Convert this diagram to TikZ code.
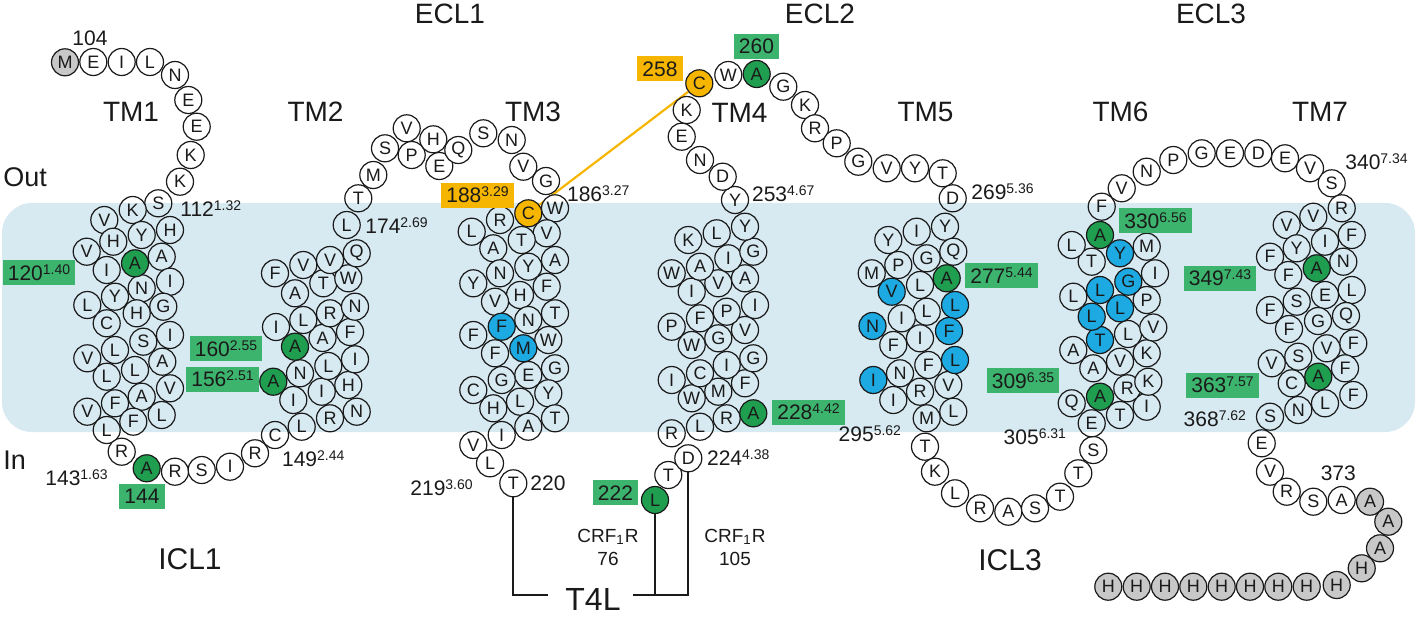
\documentclass[tikz,border=0pt]{standalone}
\usepackage{fontspec}
\setmainfont{Liberation Sans}
\pgfdeclarelayer{back}
\pgfdeclarelayer{mid}
\pgfsetlayers{back,mid,main}
\definecolor{bandc}{HTML}{D7E9F1}
\definecolor{boxgreen}{HTML}{3DB46E}
\definecolor{resgreen}{HTML}{1F9E50}
\definecolor{resblue}{HTML}{1DA9E1}
\definecolor{resorange}{HTML}{F6B600}
\definecolor{resgray}{HTML}{C8C8C8}
\definecolor{ink}{HTML}{1A1A1A}
\newcommand\bwsup[1]{\raisebox{3pt}{\fontsize{7}{8}\selectfont #1}}
\newcommand\wres[2]{\foreach \px/\py/\pl [count=\pk] in {#2} {\node[reswhite] (#1\pk) at (\px,\py) {\pl};}}
\newcommand\cres[2]{\foreach \px/\py/\pl/\pc [count=\pk] in {#2} {\node[res, fill=\pc] (#1\pk) at (\px,\py) {\pl};}}
\tikzset{
  res/.style={circle, draw=ink, line width=0.6pt, minimum size=13.5pt, inner sep=0pt, font=\fontsize{9}{9}\selectfont, text=ink},
  reswhite/.style={res, fill=white, path picture={\fill[bandc] (bandNW) rectangle (bandSE);}},
  lab/.style={inner sep=0pt, anchor=base west, font=\fontsize{10.5}{12}\selectfont, text=ink},
  numbox/.style={inner xsep=2.5pt, inner ysep=0pt, minimum height=12.5pt, text height=7.5pt, text depth=0pt, font=\fontsize{10.5}{12}\selectfont, text=ink},
  gbox/.style={numbox, fill=boxgreen},
  obox/.style={numbox, fill=resorange},
  tmlab/.style={inner sep=0pt, font=\fontsize{14}{16}\selectfont, text=ink},
  loopl/.style={inner sep=0pt, font=\fontsize{15}{17}\selectfont, text=ink},
  crf/.style={inner sep=0pt, anchor=base, font=\fontsize{9.5}{11}\selectfont, text=ink},
  link/.style={draw=ink, line width=1pt},
}
\begin{document}
\begin{tikzpicture}[x=0.5pt,y=-0.5pt]
\useasboundingbox (0,0) rectangle (1417,616);
\coordinate (bandNW) at (2,203);
\coordinate (bandSE) at (1415,432);
\begin{pgfonlayer}{back}
\fill[bandc, rounded corners=15pt] (bandNW) rectangle (bandSE);
\end{pgfonlayer}

% N-terminus, TM1, ICL1
\wres{a}{93.3/62/E, 121.7/62/I, 150/62/L, 175/75/N, 188.3/100/E, 196.7/126.7/E, 190.7/155/K, 180/181.7/K,
158.3/203.3/S, 132.7/210/K, 104.3/220/V, 170/230/H, 141.7/235/Y, 113.3/241.7/H, 86.7/251.7/V, 161.7/256.7/A,
106.7/270/I, 170/281.7/I, 141.7/288.3/N, 115/296.7/Y, 87.3/305/L, 163.3/306.7/G, 136.7/313.3/H,
106.7/323.3/C, 170/335/I, 143.3/341.7/S, 115/350/L, 87.3/358.3/V, 162.3/361.7/A, 135/370/L, 106.7/376.7/L,
170/388.3/V, 141.7/396.7/A, 115/403.3/F, 87.3/411.7/V, 161.7/415/L, 133.3/421.7/F, 106.7/430/L,
121.7/451.7/R, 175/471.7/R, 201.7/470/S, 230/466.7/I, 255/453.3/R}
% TM2, ECL1
\wres{b}{275/435/C, 301.7/426.7/L, 330/418.3/R, 356.7/411.7/N, 293.3/400/I, 321.7/391.7/I, 348.3/385/H,
300/373.3/N, 328.3/366/L, 355/359.3/I, 322.5/338/A, 350/332/F, 276/327/I, 303.3/320/L, 330/313.3/R,
355/306.7/N, 295/293.3/A, 323.3/283.3/T, 348.3/278.3/W, 275/273.3/F, 303.3/265/V, 330/260/V, 356.7/253.3/Q,
346.7/225/L, 358.3/198.3/T, 373.3/175/M, 385/148.3/S, 406.7/128.3/V, 433.3/139.3/H, 411.7/155/P,
439.3/166/E, 458.3/150/Q, 483.3/133.3/S, 511.7/140/N, 523.3/166.7/V, 546/181/G}
% TM3
\wres{c}{555/208.3/W, 500/220/R, 471.7/231.7/L, 546.7/233.3/V, 521.7/240/T, 493.3/248.3/A, 555/260/A,
528.3/266.7/Y, 500/273.3/N, 473.3/283.3/Y, 546.7/286.7/F, 520/295/H, 495/301.7/V, 555/313.3/T, 528.3/320/N,
473.3/335/F, 548.3/340/W, 495/353.3/F, 555/368.3/G, 528.3/375/E, 501.7/380/G, 473.3/390/C, 548.3/393.3/Y,
520/401.7/L, 493.3/408.3/H, 555/418.3/T, 528.3/426.7/A, 501.7/435/I, 473.3/445/V, 490/463.3/L}
% TM4, ECL2
\wres{d}{668.3/475/T, 671.7/433.3/R, 700/426.7/L, 726.7/418.3/R, 691.7/398.3/W, 718.3/391.7/M, 745/383.3/F,
671.7/380/I, 700/373.3/C, 726.7/365/I, 753.3/358.3/G, 691.7/345/W, 718.3/338.3/G, 745/330/V, 671.7/326.7/P,
700/318.3/F, 726.7/311.7/P, 755/305/I, 691.7/291.7/I, 718.3/283.3/V, 745/278.3/A, 671.7/273.3/W, 700/266.7/A,
728.3/258.3/I, 753.3/251.7/G, 688.3/240/K, 716.7/233.3/L, 745/226.7/Y, 735/200/Y, 722.7/176.7/D, 700/160/N,
681.7/136.7/E, 686.7/110/K, 728.3/75/W, 783.3/86.7/G, 805/105/K, 815/128.3/R, 836.7/143.3/P, 858.3/161.7/G,
886.7/168.3/V, 915/168.3/Y, 942.7/173.3/T, 952.7/198.3/D}
% TM5, ICL3
\wres{e}{945/226.7/Y, 916.7/231.7/I, 888.3/240/Y, 953.3/251.7/Q, 926.7/258.3/G, 898.3/265/P, 871.7/273.3/M,
920/285/L, 926.7/311.7/L, 901.7/318.3/I, 920/338.3/I, 893.3/345/F, 928.3/365/F, 900/373.3/N, 948.3/385/V,
920/391.7/R, 893.3/400/I, 953.3/411.7/L, 926.7/418.3/M, 925/446.7/T, 935/471.7/K, 955/493.3/L, 980/508.3/R,
1008.3/511.7/A, 1035/508.3/S, 1060/496.7/T}
% TM6, ECL3
\wres{f}{1078.3/473.3/T, 1093.3/450/S, 1091.7/423.3/E, 1071.7/403.3/Q, 1120/415/T, 1146.7/406.7/I,
1127.3/388.3/R, 1148.3/381.7/K, 1093.3/368.3/A, 1120/361.7/V, 1146.7/353.3/K, 1073.3/350/A, 1128/334/L,
1153.3/327.5/V, 1146.7/300/P, 1073.3/296.7/L, 1155/273.3/I, 1091.7/261.7/T, 1146.7/246.7/M, 1071.7/245/L,
1101.7/206.7/F, 1121.7/188.3/V, 1146.7/171.7/N, 1173.3/160/P, 1201.7/153.3/G, 1230/153.3/E, 1258.3/153.3/D,
1285/158.3/E, 1310/168.3/V, 1331.7/183.3/S}
% TM7, C-terminus
\wres{g}{1341.7/208.3/R, 1313.3/216.7/V, 1286.7/225/V, 1351.7/235/F, 1325/241.7/I, 1296.7/248.3/Y,
1270/256.7/F, 1343.3/261.7/N, 1288.3/275/F, 1351.7/290/L, 1325/295/E, 1296.7/301.7/S, 1270/310/F,
1346/316/Q, 1318/321/G, 1289/329/F, 1353.3/343.3/F, 1326.7/348.3/V, 1298.3/356.7/S, 1271.7/363.3/V,
1345/368.3/F, 1291.7/383.3/C, 1353.3/395/F, 1325/403.3/L, 1298.3/410/N, 1270/416.7/S, 1261.7/443.3/E,
1270/471.7/V, 1286.7/491.7/R, 1313.3/501.7/S, 1341.7/500/A}
% coloured residues
\cres{k}{65/62.3/M/resgray, 1370/501.7/A/resgray, 1388.3/521.7/A/resgray, 1380/548.3/A/resgray,
1361.7/568.3/H/resgray, 1336.7/585/H/resgray, 1306.7/586.7/H/resgray, 1278.3/586.7/H/resgray,
1250/586.7/H/resgray, 1221.7/586.7/H/resgray, 1193.3/586.7/H/resgray, 1165/586.7/H/resgray,
1136.7/586.7/H/resgray, 1108.3/586.7/H/resgray}
\cres{gr}{135/263.3/A/resgreen, 146.7/468.3/A/resgreen, 273.3/381.7/A/resgreen, 295/346.7/A/resgreen,
753.3/413.3/A/resgreen, 756.7/74/A/resgreen, 946.7/278.3/A/resgreen, 1100/396.7/A/resgreen,
1100/235/A/resgreen, 1316.7/268.3/A/resgreen, 1318.3/376.7/A/resgreen}
\cres{bl}{501.7/326.7/F/resblue, 523.3/348.3/M/resblue, 891.7/291.7/V/resblue, 955/305/L/resblue,
872.5/326/N/resblue, 949/331/F/resblue, 955/360/L/resblue, 873.3/380/I/resblue, 1100/340/T/resblue,
1091.7/316.7/L/resblue, 1120/308.3/L/resblue, 1100/290/L/resblue, 1128.3/281.7/G/resblue,
1120/253.3/Y/resblue}
\node[res, fill=resorange] (c188) at (528.3,213.3) {C};
\node[res, fill=resorange] (c258) at (699.3,83.3) {C};
\node[reswhite] (t220) at (513.3,483.3) {T};
\node[res, fill=resgreen] (l222) at (655,500) {L};
\node[reswhite] (d224) at (688.3,458.3) {D};

% connectors
\begin{pgfonlayer}{mid}
\draw[resorange, line width=1.1pt] (c188) -- (c258);
\end{pgfonlayer}
\coordinate (jl) at (548,595);
\coordinate (jr) at (633,595);
\draw[link] (t220.south) |- (jl);
\draw[link] (l222.south) |- (jr);
\draw[link] (d224.south) |- (jr);

% number labels
\node[lab, anchor=base] (l104) at (90,45) {104};
\node[lab] (l112) at (180,216) {112\bwsup{1.32}};
\node[lab] (l174) at (365,233) {174\bwsup{2.69}};
\node[lab] (l186) at (566.7,201.7) {186\bwsup{3.27}};
\node[lab] (l253) at (751.7,201.7) {253\bwsup{4.67}};
\node[lab] (l269) at (971,199) {269\bwsup{5.36}};
\node[lab] (l340) at (1345,169) {340\bwsup{7.34}};
\node[lab] (l143) at (45,485) {143\bwsup{1.63}};
\node[lab] (l149) at (281.7,466.7) {149\bwsup{2.44}};
\node[lab] (l219) at (410,495) {219\bwsup{3.60}};
\node[lab] (l220) at (530,490) {220};
\node[lab] (l224) at (706.7,465) {224\bwsup{4.38}};
\node[lab] (l295) at (838.3,441.7) {295\bwsup{5.62}};
\node[lab] (l305) at (1003.3,444) {305\bwsup{6.31}};
\node[lab] (l368) at (1183.3,426.7) {368\bwsup{7.62}};
\node[lab, anchor=base] (l373) at (1338.3,480.7) {373};

% highlighted boxes
\node[gbox] (b120) at (39,272.5) {120\bwsup{1.40}};
\node[gbox] (b160) at (226,348.7) {160\bwsup{2.55}};
\node[gbox] (b156) at (222.5,379.2) {156\bwsup{2.51}};
\node[gbox] (b144) at (142,496) {144};
\node[obox] (b188) at (477.5,195) {188\bwsup{3.29}};
\node[obox] (b258) at (660,68.5) {258};
\node[gbox] (b260) at (756.5,46) {260};
\node[gbox] (b222) at (615.5,492.5) {222};
\node[gbox] (b228) at (808.5,412) {228\bwsup{4.42}};
\node[gbox] (b277) at (1001.5,275.5) {277\bwsup{5.44}};
\node[gbox] (b309) at (1023,380.5) {309\bwsup{6.35}};
\node[gbox] (b330) at (1155.5,220.5) {330\bwsup{6.56}};
\node[gbox] (b349) at (1220,278) {349\bwsup{7.43}};
\node[gbox] (b363) at (1222.5,385) {363\bwsup{7.57}};

% region labels
\node[tmlab] (tm1) at (131,112) {TM1};
\node[tmlab] (tm2) at (315.5,112) {TM2};
\node[tmlab] (tm3) at (533,112) {TM3};
\node[tmlab] (tm4) at (739.5,113) {TM4};
\node[tmlab] (tm5) at (925.5,112) {TM5};
\node[tmlab] (tm6) at (1120.5,112) {TM6};
\node[tmlab] (tm7) at (1320,112) {TM7};
\node[tmlab] (ecl1) at (450,14) {ECL1};
\node[tmlab] (ecl2) at (820,14) {ECL2};
\node[tmlab] (ecl3) at (1211,14) {ECL3};
\node[loopl] (icl1) at (190,559) {ICL1};
\node[loopl] (icl3) at (1010,560) {ICL3};
\node[tmlab, anchor=west, font=\fontsize{13.5}{15}\selectfont] (out) at (3,177.5) {Out};
\node[tmlab, anchor=west, font=\fontsize{13.5}{15}\selectfont] (in) at (3,460) {In};
\node[inner sep=0pt, anchor=base west, font=\fontsize{16}{18}\selectfont, text=ink] (t4l) at (565,610) {T4L};
\node[crf] (crfa) at (608,542) {CRF\textsubscript{1}R};
\node[crf] (crfa2) at (608,565) {76};
\node[crf] (crfb) at (735,542) {CRF\textsubscript{1}R};
\node[crf] (crfb2) at (735,565) {105};
\end{tikzpicture}
\end{document}
